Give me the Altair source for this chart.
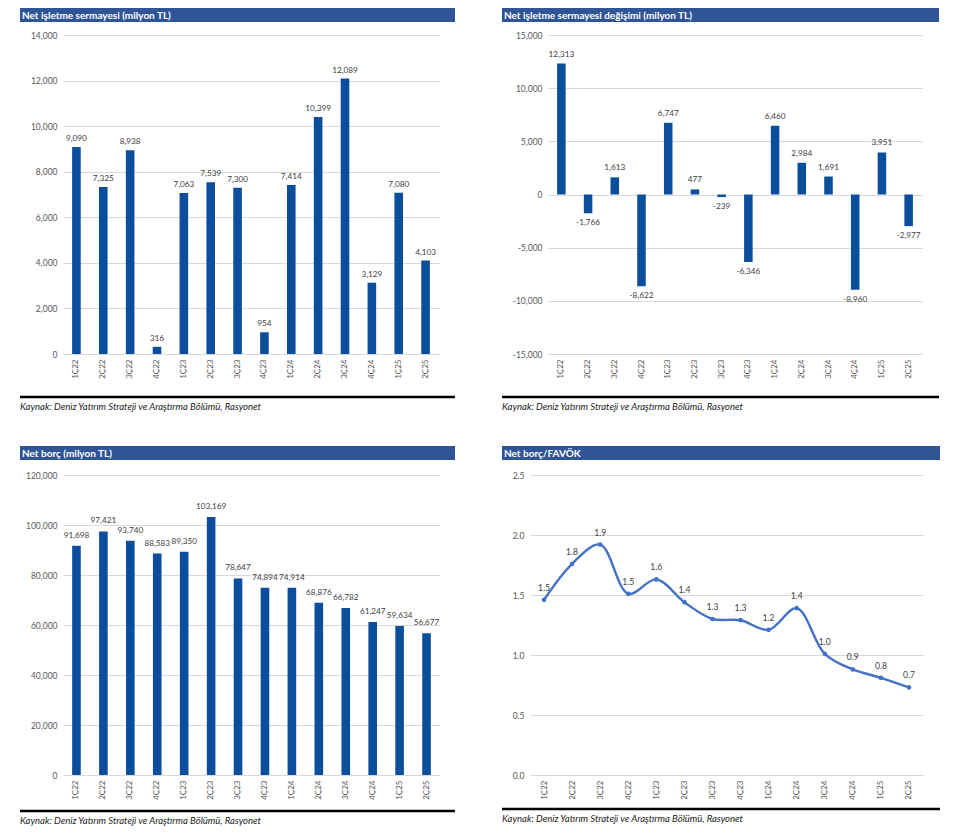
import altair as alt
import pandas as pd

cats = ["1Ç22", "2Ç22", "3Ç22", "4Ç22", "1Ç23", "2Ç23", "3Ç23", "4Ç23",
        "1Ç24", "2Ç24", "3Ç24", "4Ç24", "1Ç25", "2Ç25"]
nis = [9090, 7325, 8938, 316, 7063, 7539, 7300, 954, 7414, 10399, 12089, 3129, 7080, 4103]
nis_change = [12313, -1766, 1613, -8622, 6747, 477, -239, -6346, 6460, 2984, 1691, -8960, 3951, -2977]
net_debt = [91698, 97421, 93740, 88583, 89350, 103169, 78647, 74894, 74914, 68876, 66782, 61247, 59634, 56677]
ratio = [1.46, 1.76, 1.92, 1.51, 1.63, 1.44, 1.30, 1.29, 1.21, 1.39, 1.01, 0.88, 0.81, 0.73]

titles = ["Net işletme sermayesi (milyon TL)",
          "Net işletme sermayesi değişimi (milyon TL)",
          "Net borç (milyon TL)",
          "Net borç/FAVÖK"]
source = "Kaynak: Deniz Yatırım Strateji ve Araştırma Bölümü, Rasyonet"

FONT = "Lato"
BAR = "#0B4F9C"
LINE = "#4472C4"
HEAD = "#2F5597"
HYPHEN = "replace(datum.label, '\u2212', '-')"
LABEL_FS = 8.2


def decor(title, w, h, left, right, top, rule_dy, src_dy):
    tdf = pd.DataFrame({"t": [title], "s": [source]})
    base = alt.Chart(tdf)
    rect = base.mark_rect(color=HEAD).encode(
        x=alt.value(left), x2=alt.value(w + right),
        y=alt.value(top), y2=alt.value(top + 14))
    ttxt = base.mark_text(align="left", baseline="middle", color="white",
                          font=FONT, fontWeight="bold", fontSize=10).encode(
        x=alt.value(left + 2), y=alt.value(top + 7.5), text="t:N")
    rule = base.mark_rule(color="black", strokeWidth=2.5).encode(
        x=alt.value(left), x2=alt.value(w + right), y=alt.value(h + rule_dy))
    stxt = base.mark_text(align="left", baseline="middle", color="#222222",
                          font=FONT, fontStyle="italic", fontSize=9.5).encode(
        x=alt.value(left), y=alt.value(h + src_dy), text="s:N")
    return [rect, ttxt, rule, stxt]


def xaxis():
    return alt.Axis(labelAngle=-90, labelFontSize=8, labelColor="#595959",
                    labelFont=FONT, ticks=False, domain=False, labelPadding=5,
                    labelBaseline="middle", labelAlign="right")


def yenc(field, domain, values, fmt):
    return alt.Y(f"{field}:Q", title=None, scale=alt.Scale(domain=domain, nice=False),
                 axis=alt.Axis(values=values, format=fmt, labelExpr=HYPHEN,
                               labelFontSize=8.5, labelColor="#595959", labelFont=FONT,
                               ticks=False, domain=False, gridColor="#D9D9D9",
                               labelPadding=6))


def bar_panel(vals, domain, values, w, h, title, left, right, top, rule_dy, src_dy, dpos, dneg):
    df = pd.DataFrame({"q": cats, "v": vals})
    base = alt.Chart(df).encode(
        x=alt.X("q:N", sort=cats, title=None,
                scale=alt.Scale(paddingInner=0.68, paddingOuter=0.34), axis=xaxis()),
        y=yenc("v", domain, values, ",.0f"))
    bars = base.mark_bar(color=BAR)
    lab = base.transform_calculate(lbl="replace(format(datum.v, ','), '\u2212', '-')")
    pos = lab.mark_text(baseline="middle", dy=dpos, fontSize=LABEL_FS, font=FONT,
                        color="#404040").encode(text="lbl:N").transform_filter("datum.v >= 0")
    neg = lab.mark_text(baseline="middle", dy=dneg, fontSize=LABEL_FS, font=FONT,
                        color="#404040").encode(text="lbl:N").transform_filter("datum.v < 0")
    return alt.layer(bars, pos, neg,
                     *decor(title, w, h, left, right, top, rule_dy, src_dy)
                     ).properties(width=w, height=h)


def line_panel(w, h, title, left, right, top, rule_dy, src_dy):
    df = pd.DataFrame({"q": cats, "v": ratio})
    base = alt.Chart(df).encode(
        x=alt.X("q:N", sort=cats, title=None, scale=alt.Scale(paddingOuter=0.5),
                axis=xaxis()),
        y=yenc("v", [0, 2.5], [0, 0.5, 1.0, 1.5, 2.0, 2.5], ".1f"))
    line = base.mark_line(color=LINE, strokeWidth=2.4, interpolate="catmull-rom")
    pts = base.mark_point(color=LINE, filled=True, size=22, opacity=1)
    txt = base.mark_text(baseline="middle", dy=-12, fontSize=8.6, font=FONT,
                         color="#404040").encode(text=alt.Text("v:Q", format=".1f"))
    return alt.layer(line, pts, txt,
                     *decor(title, w, h, left, right, top, rule_dy, src_dy)
                     ).properties(width=w, height=h)


# left column plots share one origin so row alignment cannot shift them
p1 = bar_panel(nis, [0, 14000], list(range(0, 14001, 2000)), 376, 319, titles[0],
               -43, 16, -27, 43, 53, -8, 10)
p2 = bar_panel(nis_change, [-15000, 15000], list(range(-15000, 15001, 5000)), 374, 319,
               titles[1], -46, 17, -27, 43, 53, -9, 10)
p3 = bar_panel(net_debt, [0, 120000], list(range(0, 120001, 20000)), 377, 300, titles[2],
               -43, 15, -29, 36, 46, -10, 10)
p4 = line_panel(393, 300, titles[3], -28, 17, -29, 34, 44)

row1 = alt.hconcat(p1, p2, spacing=109, bounds="flush")
row2 = alt.hconcat(p3, p4, spacing=90, bounds="flush")

chart = alt.concat(
    row1, row2, columns=1, spacing=34, align="none", bounds="full",
).properties(
    padding={"left": 10, "top": 0, "right": 0, "bottom": 0}
).configure_view(stroke=None)

chart.save("out.html", embed_options={"renderer": "svg", "actions": False})
